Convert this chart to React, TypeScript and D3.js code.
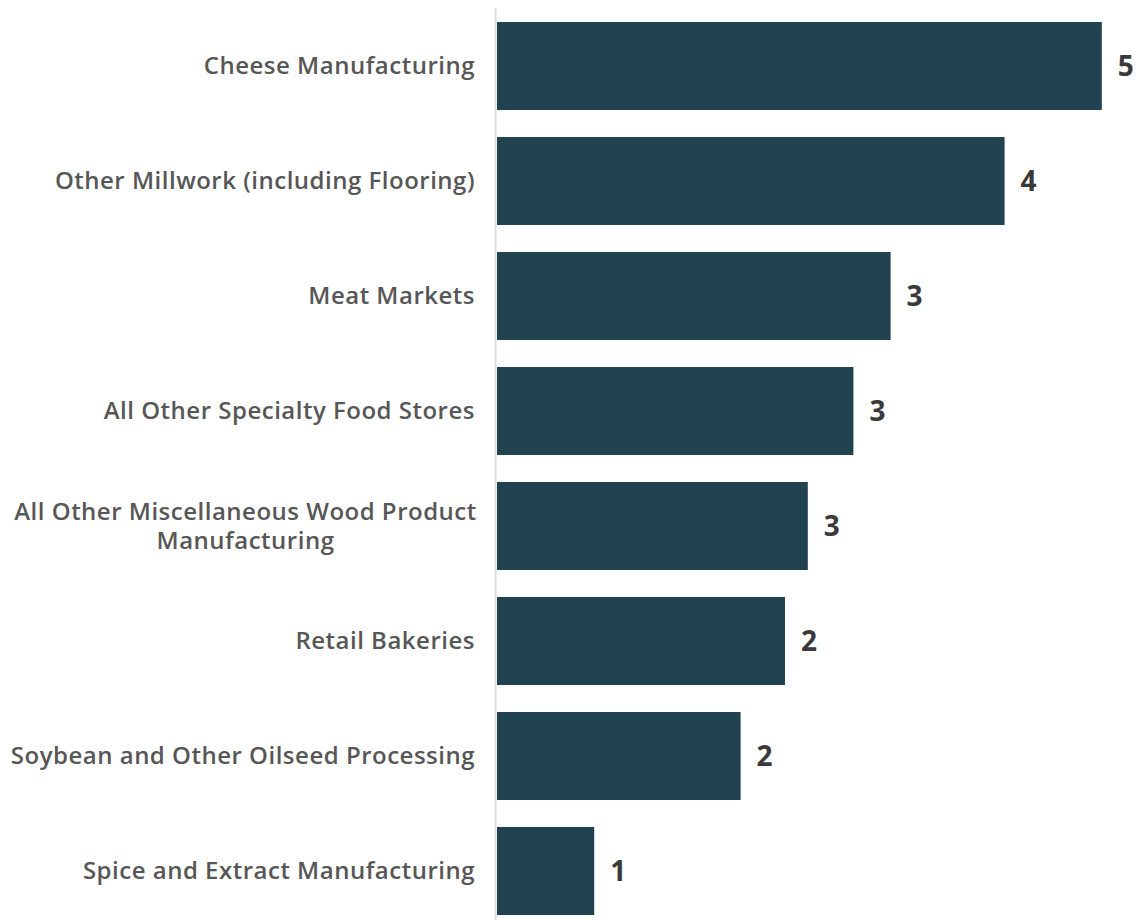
import React from "react";
import * as d3 from "d3";

const categories: string[][] = [
  ["Cheese Manufacturing"],
  ["Other Millwork (including Flooring)"],
  ["Meat Markets"],
  ["All Other Specialty Food Stores"],
  ["All Other Miscellaneous Wood Product", "Manufacturing"],
  ["Retail Bakeries"],
  ["Soybean and Other Oilseed Processing"],
  ["Spice and Extract Manufacturing"],
];
const values: number[] = [5.04, 4.23, 3.28, 2.97, 2.59, 2.4, 2.03, 0.81];
const valueLabels: string[] = ["5", "4", "3", "3", "3", "2", "2", "1"];

const W = 1136;
const H = 920;
const x0 = 497;
const pxPerUnit = 120;

export default function App() {
  const x = d3.scaleLinear().domain([0, 1]).range([x0, x0 + pxPerUnit]);
  const idx = d3.range(values.length);
  const y = d3
    .scaleBand<number>()
    .domain(idx)
    .range([8.5, 8.5 + 115 * values.length])
    .paddingInner(0.235)
    .paddingOuter(0.1175);
  const font = "'Open Sans', sans-serif";
  return (
    <svg
      width={W}
      height={H}
      style={{ position: "absolute", left: 0, top: 0, background: "#fff" }}
    >
      <line x1={495.5} x2={495.5} y1={8} y2={H} stroke="#dcdcdc" strokeWidth={2} />
      {idx.map((i) => {
        const yy = y(i)!;
        const bw = y.bandwidth();
        const cy = yy + bw / 2;
        const lines = categories[i];
        const lh = 29.5;
        const multi = lines.length > 1;
        return (
          <g key={i}>
            <rect x={x(0)} y={yy} width={x(values[i]) - x(0)} height={bw} fill="#21424f" />
            {lines.map((l, k) => (
              <text
                key={k}
                x={multi ? 245.5 : 475}
                y={cy + (k - (lines.length - 1) / 2) * lh}
                dy="0.35em"
                textAnchor={multi ? "middle" : "end"}
                fontFamily={font}
                fontWeight={600}
                fontSize={24}
                letterSpacing={0.5}
                fill="#575757"
              >
                {l}
              </text>
            ))}
            <text
              x={x(values[i]) + 16}
              y={cy}
              dy="0.36em"
              fontFamily={font}
              fontWeight={700}
              fontSize={28}
              fill="#3a3a3a"
            >
              {valueLabels[i]}
            </text>
          </g>
        );
      })}
    </svg>
  );
}
